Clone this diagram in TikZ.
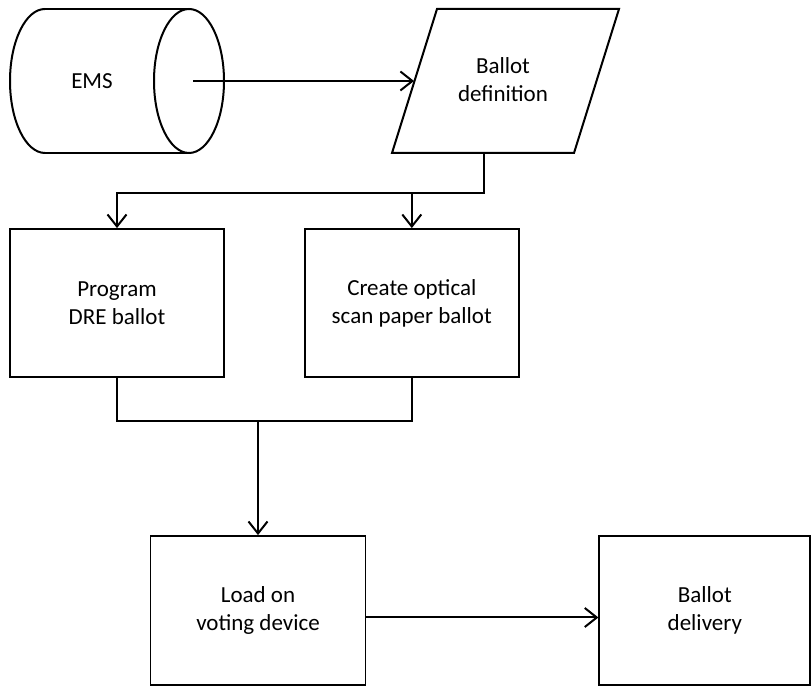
\documentclass[tikz,border=0pt]{standalone}
\usepackage{fontspec}
\setmainfont{Carlito}
\usetikzlibrary{arrows.meta,positioning,calc}
\tikzset{
  blk/.style={draw,line width=1.8pt,minimum width=214pt,minimum height=148pt,align=center,inner sep=0pt},
  arr/.style={-{Straight Barb[length=12pt,width=19pt,line width=2pt]}},
  seg/.style={line width=2pt,draw=black},
}

\begin{document}
\begin{tikzpicture}[x=1pt,y=1pt,font=\fontsize{23}{28}\selectfont]
  \useasboundingbox (0,0) rectangle (812,687);
  % EMS cylinder
  \draw[seg] (45,678) -- (189,678) (45,534) -- (189,534);
  \draw[seg] (45,678) arc[start angle=90,end angle=270,x radius=35,y radius=72];
  \draw[seg] (189,606) ellipse[x radius=35,y radius=72];
  \node (ems) at (92,606) {EMS};
  \coordinate (emsout) at (193,606);
  % ballot definition
  \draw[seg] (392,534) -- (437,678) -- (619,678) -- (574,534) -- cycle;
  \node[align=center] (def) at (503,607) {Ballot\\definition};
  \coordinate (defin) at (414,606);
  \coordinate (defout) at (484,534);
  \draw[seg,arr] (emsout) -- (defin);
  % ballot preparation
  \node[blk] (dre) at (117,384) {Program\\DRE ballot};
  \node[blk,right=79pt of dre] (opt) {Create optical\\scan paper ballot};
  \draw[seg,arr] (defout) |- ($(dre.north)+(0,35)$) -- (dre.north);
  \draw[seg,arr] ($(opt.north)+(0,35)$) -- (opt.north);
  % loading and delivery
  \node[blk,minimum width=215pt,minimum height=149pt] (load) at (258,76.5) {Load on\\voting device};
  \node[blk,minimum width=211pt,minimum height=149pt,right=232pt of load] (deliv) {Ballot\\delivery};
  \coordinate (join) at ($(dre.south)+(0,-43)$);
  \draw[seg] (dre.south) -- (join) -| (opt.south);
  \draw[seg,arr] (load.north |- join) -- (load.north);
  \draw[seg,arr] ([yshift=-7pt]load.east) -- ([yshift=-7pt]deliv.west);
\end{tikzpicture}
\end{document}
